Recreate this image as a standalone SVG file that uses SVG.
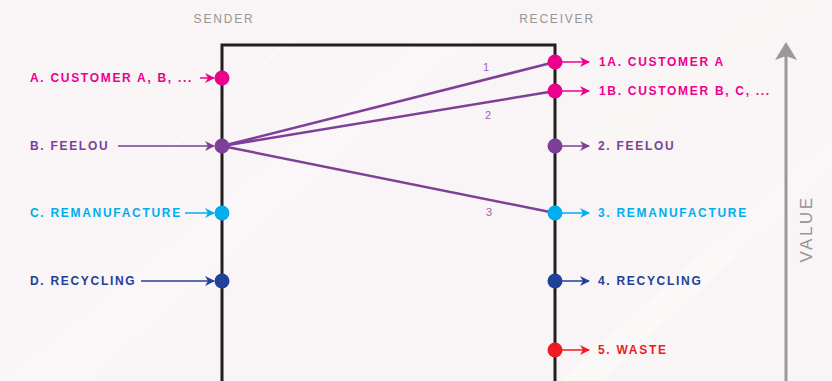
<svg xmlns="http://www.w3.org/2000/svg" width="832" height="381" viewBox="0 0 832 381">
  <defs>
    <style>
      .lbl { font-family: "Liberation Sans", Arial, sans-serif; font-size: 12px; font-weight: bold; letter-spacing: 1.7px; dominant-baseline: central; }
      .hdr { font-family: "Liberation Sans", Arial, sans-serif; font-size: 12px; letter-spacing: 1.8px; fill: #969696; text-anchor: middle; }
      .num { font-family: "Liberation Sans", Arial, sans-serif; font-size: 11px; fill: #a060b0; text-anchor: middle; }
      .pink { fill: #ec008c; } .purple { fill: #7d3f98; } .cyan { fill: #00aeef; } .navy { fill: #21409a; } .red { fill: #ed1c24; }
      .spink { stroke: #ec008c; } .spurple { stroke: #7d3f98; } .scyan { stroke: #00aeef; } .snavy { stroke: #21409a; } .sred { stroke: #ed1c24; }
      .arr { stroke-width: 1.5; fill: none; }
      .flow { stroke: #7d3f98; stroke-width: 2.5; fill: none; }
    </style>
    <marker id="hPink" markerWidth="10" markerHeight="10" refX="9" refY="5" orient="auto" markerUnits="userSpaceOnUse"><path d="M0,0 L10,5 L0,10 L3,5 Z" fill="#ec008c"/></marker>
    <marker id="hPurple" markerWidth="10" markerHeight="10" refX="9" refY="5" orient="auto" markerUnits="userSpaceOnUse"><path d="M0,0 L10,5 L0,10 L3,5 Z" fill="#7d3f98"/></marker>
    <marker id="hCyan" markerWidth="10" markerHeight="10" refX="9" refY="5" orient="auto" markerUnits="userSpaceOnUse"><path d="M0,0 L10,5 L0,10 L3,5 Z" fill="#00aeef"/></marker>
    <marker id="hNavy" markerWidth="10" markerHeight="10" refX="9" refY="5" orient="auto" markerUnits="userSpaceOnUse"><path d="M0,0 L10,5 L0,10 L3,5 Z" fill="#21409a"/></marker>
    <marker id="hRed" markerWidth="10" markerHeight="10" refX="9" refY="5" orient="auto" markerUnits="userSpaceOnUse"><path d="M0,0 L10,5 L0,10 L3,5 Z" fill="#ed1c24"/></marker>
  </defs>

  <!-- background with faint diagonal sheen -->
  <rect width="832" height="381" fill="#f9f4f5"/>
  <g fill="#ffffff" opacity="0.35">
    <polygon points="0,300 300,28 306,28 0,308"/>
    <polygon points="0,381 90,381 470,40 420,40"/>
    <polygon points="560,381 600,381 832,170 832,135"/>
    <polygon points="600,170 832,0 760,0 560,150" opacity="0.5"/>
  </g>

  <!-- column headers -->
  <text class="hdr" x="224" y="23">SENDER</text>
  <text class="hdr" x="557" y="23">RECEIVER</text>

  <!-- frame -->
  <path d="M222,381 V45 H555 V381" fill="none" stroke="#231f20" stroke-width="3"/>

  <!-- value axis -->
  <g id="value-axis">
    <line x1="786" y1="381" x2="786" y2="55" stroke="#999999" stroke-width="3"/>
    <path d="M775,60 L786,42 L797,60 L786,56 Z" fill="#999999"/>
    <text x="0" y="0" transform="translate(806,229) rotate(-90)" font-family="'Liberation Sans', Arial, sans-serif" font-size="17" letter-spacing="2.5" fill="#959595" text-anchor="middle" dominant-baseline="central">VALUE</text>
  </g>

  <!-- connectors -->
  <g id="connectors">
    <line class="flow" x1="222" y1="146" x2="555" y2="62"/>
    <line class="flow" x1="222" y1="146" x2="555" y2="91"/>
    <line class="flow" x1="222" y1="146" x2="555" y2="213"/>
    <text class="num" x="486" y="71">1</text>
    <text class="num" x="488" y="119">2</text>
    <text class="num" x="489" y="216">3</text>

    <line class="arr spink" x1="200" y1="78" x2="214" y2="78" marker-end="url(#hPink)"/>
    <line class="arr spurple" x1="118" y1="146" x2="214" y2="146" marker-end="url(#hPurple)"/>
    <line class="arr scyan" x1="185" y1="213" x2="214" y2="213" marker-end="url(#hCyan)"/>
    <line class="arr snavy" x1="141" y1="281" x2="214" y2="281" marker-end="url(#hNavy)"/>

    <line class="arr spink" x1="562" y1="62" x2="589" y2="62" marker-end="url(#hPink)"/>
    <line class="arr spink" x1="562" y1="91" x2="589" y2="91" marker-end="url(#hPink)"/>
    <line class="arr spurple" x1="562" y1="146" x2="589" y2="146" marker-end="url(#hPurple)"/>
    <line class="arr scyan" x1="562" y1="213" x2="589" y2="213" marker-end="url(#hCyan)"/>
    <line class="arr snavy" x1="562" y1="281" x2="589" y2="281" marker-end="url(#hNavy)"/>
    <line class="arr sred" x1="562" y1="350" x2="589" y2="350" marker-end="url(#hRed)"/>
  </g>

  <!-- sender nodes -->
  <g id="sender-a"><circle cx="222" cy="78" r="7.5" class="pink"/><text class="lbl pink" x="30" y="78">A. CUSTOMER A, B, ...</text></g>
  <g id="sender-b"><circle cx="222" cy="146" r="7.5" class="purple"/><text class="lbl purple" x="30" y="146">B. FEELOU</text></g>
  <g id="sender-c"><circle cx="222" cy="213" r="7.5" class="cyan"/><text class="lbl cyan" x="30" y="213">C. REMANUFACTURE</text></g>
  <g id="sender-d"><circle cx="222" cy="281" r="7.5" class="navy"/><text class="lbl navy" x="30" y="281">D. RECYCLING</text></g>

  <!-- receiver nodes -->
  <g id="receiver-1a"><circle cx="555" cy="62" r="7.5" class="pink"/><text class="lbl pink" x="599" y="62">1A. CUSTOMER A</text></g>
  <g id="receiver-1b"><circle cx="555" cy="91" r="7.5" class="pink"/><text class="lbl pink" x="599" y="91">1B. CUSTOMER B, C, ...</text></g>
  <g id="receiver-2"><circle cx="555" cy="146" r="7.5" class="purple"/><text class="lbl purple" x="598" y="146">2. FEELOU</text></g>
  <g id="receiver-3"><circle cx="555" cy="213" r="7.5" class="cyan"/><text class="lbl cyan" x="598" y="213">3. REMANUFACTURE</text></g>
  <g id="receiver-4"><circle cx="555" cy="281" r="7.5" class="navy"/><text class="lbl navy" x="598" y="281">4. RECYCLING</text></g>
  <g id="receiver-5"><circle cx="555" cy="350" r="7.5" class="red"/><text class="lbl red" x="598" y="350">5. WASTE</text></g>
</svg>
